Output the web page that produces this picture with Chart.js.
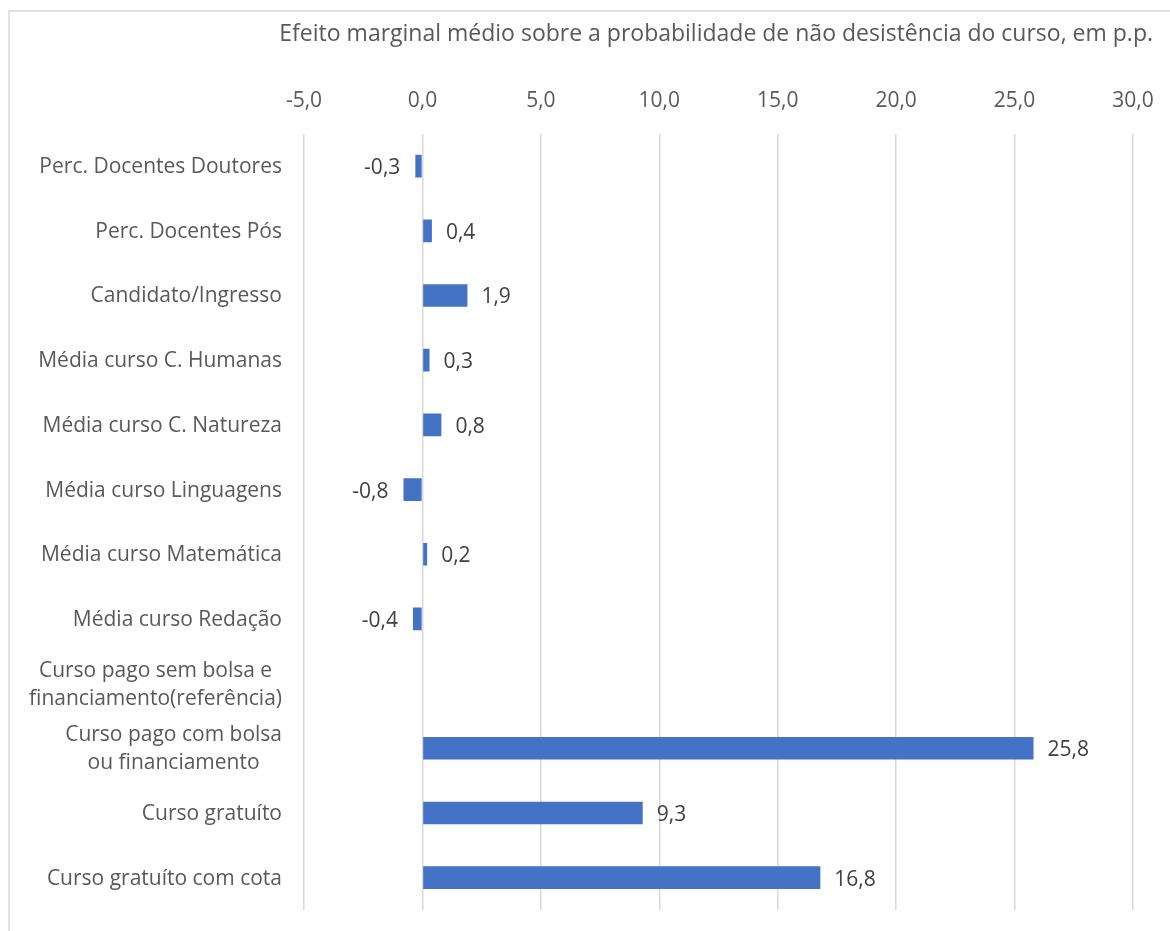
<!DOCTYPE html>
<html>
<head>
<meta charset="utf-8">
<script src="https://cdn.jsdelivr.net/npm/chart.js@4/dist/chart.umd.min.js"></script>
<style>
  html, body { margin: 0; padding: 0; background: #fff; }
  #wrap { width: 1170px; height: 931px; }
</style>
</head>
<body>
<div id="wrap"><canvas id="myChart" width="1170" height="931"></canvas></div>
<script>
const categorias = [
    ["Perc. Docentes Doutores"],
    ["Perc. Docentes Pós"],
    ["Candidato/Ingresso"],
    ["Média curso C. Humanas"],
    ["Média curso C. Natureza"],
    ["Média curso Linguagens"],
    ["Média curso Matemática"],
    ["Média curso Redação"],
    ["Curso pago sem bolsa e", "financiamento(referência)"],
    ["Curso pago com bolsa", "ou financiamento"],
    ["Curso gratuíto"],
    ["Curso gratuíto com cota"]
];
const efeitos = [-0.3, 0.4, 1.9, 0.3, 0.8, -0.8, 0.2, -0.4, null, 25.8, 9.3, 16.8];
const eixoMin = -5;
const eixoMax = 30;
const eixoPasso = 5;
const titulo = "Efeito marginal médio sobre a probabilidade de não desistência do curso, em p.p.";

const fonte = "'Open Sans', 'Noto Sans', sans-serif";
const fmt = v => v.toFixed(1).replace(".", ",");

// moldura cinza do gráfico (só borda superior e esquerda aparecem)
const moldura = {
    id: "moldura",
    beforeDraw(chart) {
        const c = chart.ctx;
        c.save();
        c.strokeStyle = "#d9d9d9";
        c.lineWidth = 1.5;
        c.strokeRect(9, 11, chart.width + 20, chart.height + 20);
        c.restore();
    }
};

// rótulos do eixo y: bloco alinhado à direita, linhas centradas entre si
const rotulosY = {
    id: "rotulosY",
    afterDraw(chart) {
        const c = chart.ctx;
        const y = chart.scales.y;
        const direita = chart.chartArea.left - 22;
        const alturaLinha = 28;
        c.save();
        c.font = "21px " + fonte;
        c.fillStyle = "#595959";
        c.textBaseline = "middle";
        c.textAlign = "center";
        categorias.forEach((linhas, i) => {
            const yc = y.getPixelForTick(i) + 1;
            const larg = Math.max(...linhas.map(l => c.measureText(l).width));
            const xc = direita - larg / 2;
            const y0 = yc - (linhas.length - 1) * alturaLinha / 2;
            linhas.forEach((l, k) => c.fillText(l, xc, y0 + k * alturaLinha));
        });
        c.restore();
    }
};

// valores ao lado de cada barra
const valores = {
    id: "valores",
    afterDatasetsDraw(chart) {
        const c = chart.ctx;
        const meta = chart.getDatasetMeta(0);
        c.save();
        c.font = "21px " + fonte;
        c.fillStyle = "#404040";
        c.textBaseline = "middle";
        meta.data.forEach((bar, i) => {
            const v = efeitos[i];
            if (v === null) return;
            if (v >= 0) {
                c.textAlign = "left";
                c.fillText(fmt(v), bar.x + 14, bar.y + 2);
            } else {
                c.textAlign = "right";
                c.fillText(fmt(v), bar.x - 15, bar.y + 2);
            }
        });
        c.restore();
    }
};

const ctx = document.getElementById("myChart").getContext("2d");
const grafico = new Chart(ctx, {
    type: "bar",
    data: {
        labels: categorias,
        datasets: [{
            data: efeitos,
            backgroundColor: "#4472C4",
            barPercentage: 0.7,
            categoryPercentage: 0.5
        }]
    },
    options: {
        indexAxis: "y",
        responsive: false,
        animation: false,
        layout: { padding: { left: 0, right: 17, top: 0, bottom: 21 } },
        plugins: {
            legend: { display: false },
            tooltip: { enabled: false },
            title: {
                display: true,
                text: titulo,
                align: "end",
                color: "#595959",
                font: { family: fonte, size: 23, weight: "normal" },
                padding: { top: 21, bottom: 20 }
            }
        },
        scales: {
            x: {
                position: "top",
                min: eixoMin,
                max: eixoMax,
                ticks: {
                    stepSize: eixoPasso,
                    color: "#595959",
                    font: { family: fonte, size: 21 },
                    padding: 20,
                    callback: v => fmt(v)
                },
                grid: {
                    color: "#d9d9d9",
                    lineWidth: 1.5,
                    drawTicks: false
                },
                border: { display: false },
                afterFit(scale) { scale.paddingRight = 37; }
            },
            y: {
                ticks: { display: false },
                grid: { display: false },
                border: { display: false },
                afterFit(scale) { scale.width = 304; }
            }
        }
    },
    plugins: [moldura, rotulosY, valores]
});
</script>
</body>
</html>
